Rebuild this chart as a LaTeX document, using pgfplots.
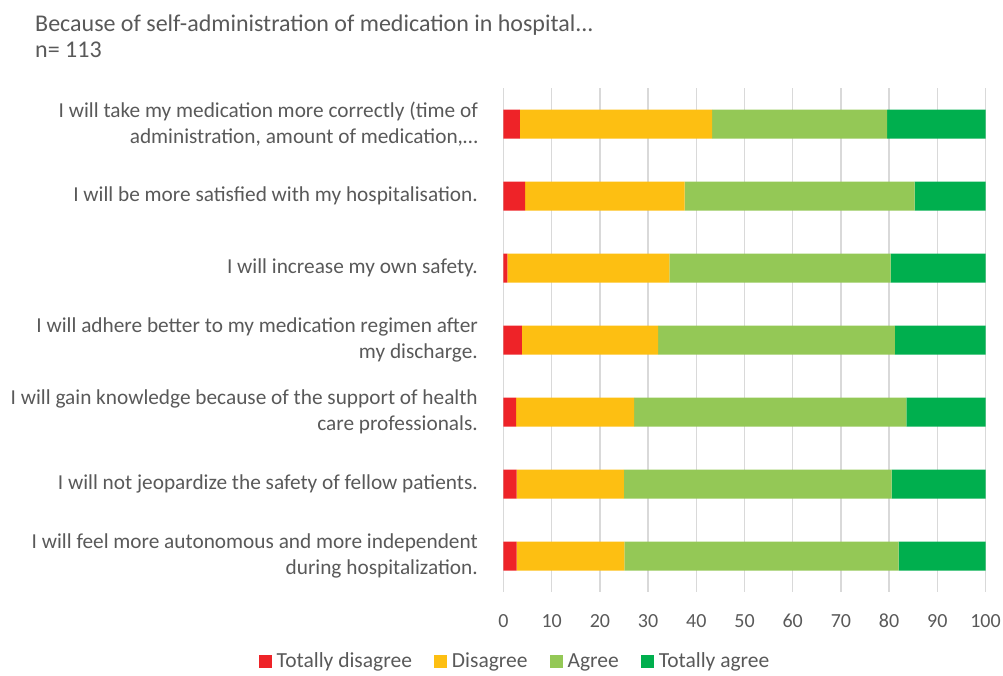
\documentclass[border=0pt]{standalone}
\usepackage{fontspec}
\setmainfont{Carlito}
\usepackage{pgfplots}
\usepackage{pgfplotstable}
\pgfplotsset{compat=1.18}

\definecolor{txt}{HTML}{595959}
\definecolor{gridc}{HTML}{D9D9D9}
\definecolor{tdis}{HTML}{EE2328}
\definecolor{dis}{HTML}{FDBF12}
\definecolor{agr}{HTML}{94C856}
\definecolor{tagr}{HTML}{00AF4E}

% shares in percent
\pgfplotstableread{
y  td   d    a    ta
1  3.4  39.9 36.3 20.4
2  4.5  33.1 47.7 14.7
3  0.8  33.6 45.9 19.7
4  3.8  28.3 49.1 18.8
5  2.6  24.5 56.5 16.4
6  2.7  22.3 55.5 19.5
7  2.7  22.4 56.9 18.0
}\shares

\begin{document}
\begin{tikzpicture}[x=1pt,y=1pt]
\path[use as bounding box] (-503.5,-84) rectangle (499.5,592);
\node[anchor=base west, text=txt, font=\fontsize{24}{26}\selectfont, inner sep=0pt] at (-468.5,560) {Because of self-administration of medication in hospital...};
\node[anchor=base west, text=txt, font=\fontsize{24}{26}\selectfont, inner sep=0pt] at (-468.5,534) {n= 113};
\begin{axis}[
    at={(0,0)}, anchor=south west,
    scale only axis,
    width=482pt, height=504pt,
    xbar stacked,
    bar width=29pt,
    xmin=0, xmax=100,
    ymin=0.5, ymax=7.5,
    y dir=reverse,
    xtick={0,10,...,100},
    ytick={1,...,7},
    yticklabels={
      {I will take my medication more correctly (time of\\administration, amount of medication,…},
      {I will be more satisfied with my hospitalisation.},
      {I will increase my own safety.},
      {I will adhere better to my medication regimen after\\my discharge.},
      {I will gain knowledge because of the support of health\\care professionals.},
      {I will not jeopardize the safety of fellow patients.},
      {I will feel more autonomous and more independent\\during hospitalization.}
    },
    axis line style={draw=none},
    major tick length=0pt,
    xmajorgrids,
    grid style={draw=gridc, line width=1.5pt},
    /pgf/number format/assume math mode=true,
    tick label style={text=txt},
    xticklabel style={font=\fontsize{20}{22}\selectfont, inner sep=0pt, yshift=-22pt},
    yticklabel style={font=\fontsize{21.3}{26}\selectfont, align=right, inner sep=0pt, xshift=-25.5pt},
    legend style={at={(0.024,-0.137)}, anchor=center, draw=none, fill=none,
      legend columns=4, text=txt, font=\fontsize{21.5}{24}\selectfont,
      /tikz/every even column/.append style={column sep=20pt}},
    legend cell align=left,
    legend image code/.code={\fill[#1] (0pt,-6.5pt) rectangle (13pt,6.5pt); \path (16pt,0pt);},
]
\addplot[fill=tdis, draw=none] table[x=td, y=y] {\shares};
\addplot[fill=dis, draw=none] table[x=d, y=y] {\shares};
\addplot[fill=agr, draw=none] table[x=a, y=y] {\shares};
\addplot[fill=tagr, draw=none] table[x=ta, y=y] {\shares};
\legend{Totally disagree, Disagree, Agree, Totally agree}
\end{axis}
\end{tikzpicture}
\end{document}
